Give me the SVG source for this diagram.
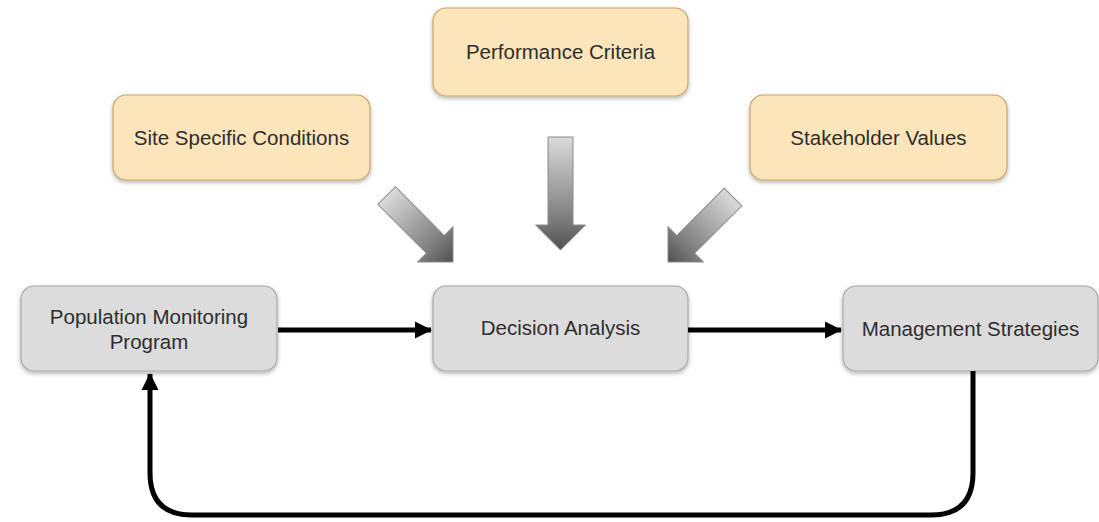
<svg xmlns="http://www.w3.org/2000/svg" width="1099" height="522" viewBox="0 0 1099 522">
<defs>
<style>
.txt{font-family:"Liberation Sans",Arial,sans-serif;font-size:20.5px;fill:#2e2e2e;text-anchor:middle}
.orange{fill:#fce4bb;stroke:#c9a56a;stroke-width:1.2}
.gray{fill:#dcdcdc;stroke:#a8a8a8;stroke-width:1.2}
.conn{fill:none;stroke:#000;stroke-width:5}
.big{fill:url(#ag);stroke:#8a8a8a;stroke-width:1}
</style>
<filter id="sh" x="-10%" y="-10%" width="120%" height="130%">
<feDropShadow dx="0" dy="2" stdDeviation="2" flood-color="#000" flood-opacity="0.3"/>
</filter>
<linearGradient id="ag" x1="0" y1="0" x2="0" y2="1">
<stop offset="0" stop-color="#dadada"/>
<stop offset="0.75" stop-color="#7a7a7a"/>
<stop offset="1" stop-color="#4e4e4e"/>
</linearGradient>
<marker id="ah" markerWidth="4" markerHeight="4" refX="3.2" refY="2" orient="auto" markerUnits="strokeWidth">
<path d="M0,0.3 L3.4,2 L0,3.7 Z" fill="#000"/>
</marker>
</defs>
<rect width="1099" height="522" fill="#fff"/>

<g id="site-specific-conditions">
<rect class="orange" x="113" y="95" width="257" height="85" rx="13" filter="url(#sh)"/>
<text class="txt" x="241.5" y="145">Site Specific Conditions</text>
</g>
<g id="performance-criteria">
<rect class="orange" x="433" y="8" width="255" height="88" rx="13" filter="url(#sh)"/>
<text class="txt" x="560.5" y="59">Performance Criteria</text>
</g>
<g id="stakeholder-values">
<rect class="orange" x="750" y="95" width="257" height="85" rx="13" filter="url(#sh)"/>
<text class="txt" x="878.5" y="145">Stakeholder Values</text>
</g>
<g id="population-monitoring-program">
<rect class="gray" x="21" y="286" width="256" height="85" rx="13" filter="url(#sh)"/>
<text class="txt" x="149" y="324">Population Monitoring</text>
<text class="txt" x="149" y="349">Program</text>
</g>
<g id="decision-analysis">
<rect class="gray" x="433" y="286" width="255" height="85" rx="13" filter="url(#sh)"/>
<text class="txt" x="560.5" y="335">Decision Analysis</text>
</g>
<g id="management-strategies">
<rect class="gray" x="843" y="286" width="255" height="85" rx="13" filter="url(#sh)"/>
<text class="txt" x="970.5" y="336">Management Strategies</text>
</g>

<g id="input-arrows">
<path class="big" transform="translate(560.5,250)" d="M-12.5,-113 L12.5,-113 L12.5,-25 L25,-25 L0,0 L-25,-25 L-12.5,-25 Z"/>
<path class="big" transform="translate(453,262) rotate(-45)" d="M-12.5,-94 L12.5,-94 L12.5,-25 L25,-25 L0,0 L-25,-25 L-12.5,-25 Z"/>
<path class="big" transform="translate(668,262) rotate(45)" d="M-12.5,-92 L12.5,-92 L12.5,-25 L25,-25 L0,0 L-25,-25 L-12.5,-25 Z"/>
</g>

<g id="connectors">
<line class="conn" x1="278" y1="330" x2="431" y2="330" marker-end="url(#ah)"/>
<line class="conn" x1="688" y1="330" x2="841" y2="330" marker-end="url(#ah)"/>
<path class="conn" d="M973,371 L973,473 Q973,515 931,515 L192,515 Q150,515 150,473 L150,374" marker-end="url(#ah)"/>
</g>
</svg>
